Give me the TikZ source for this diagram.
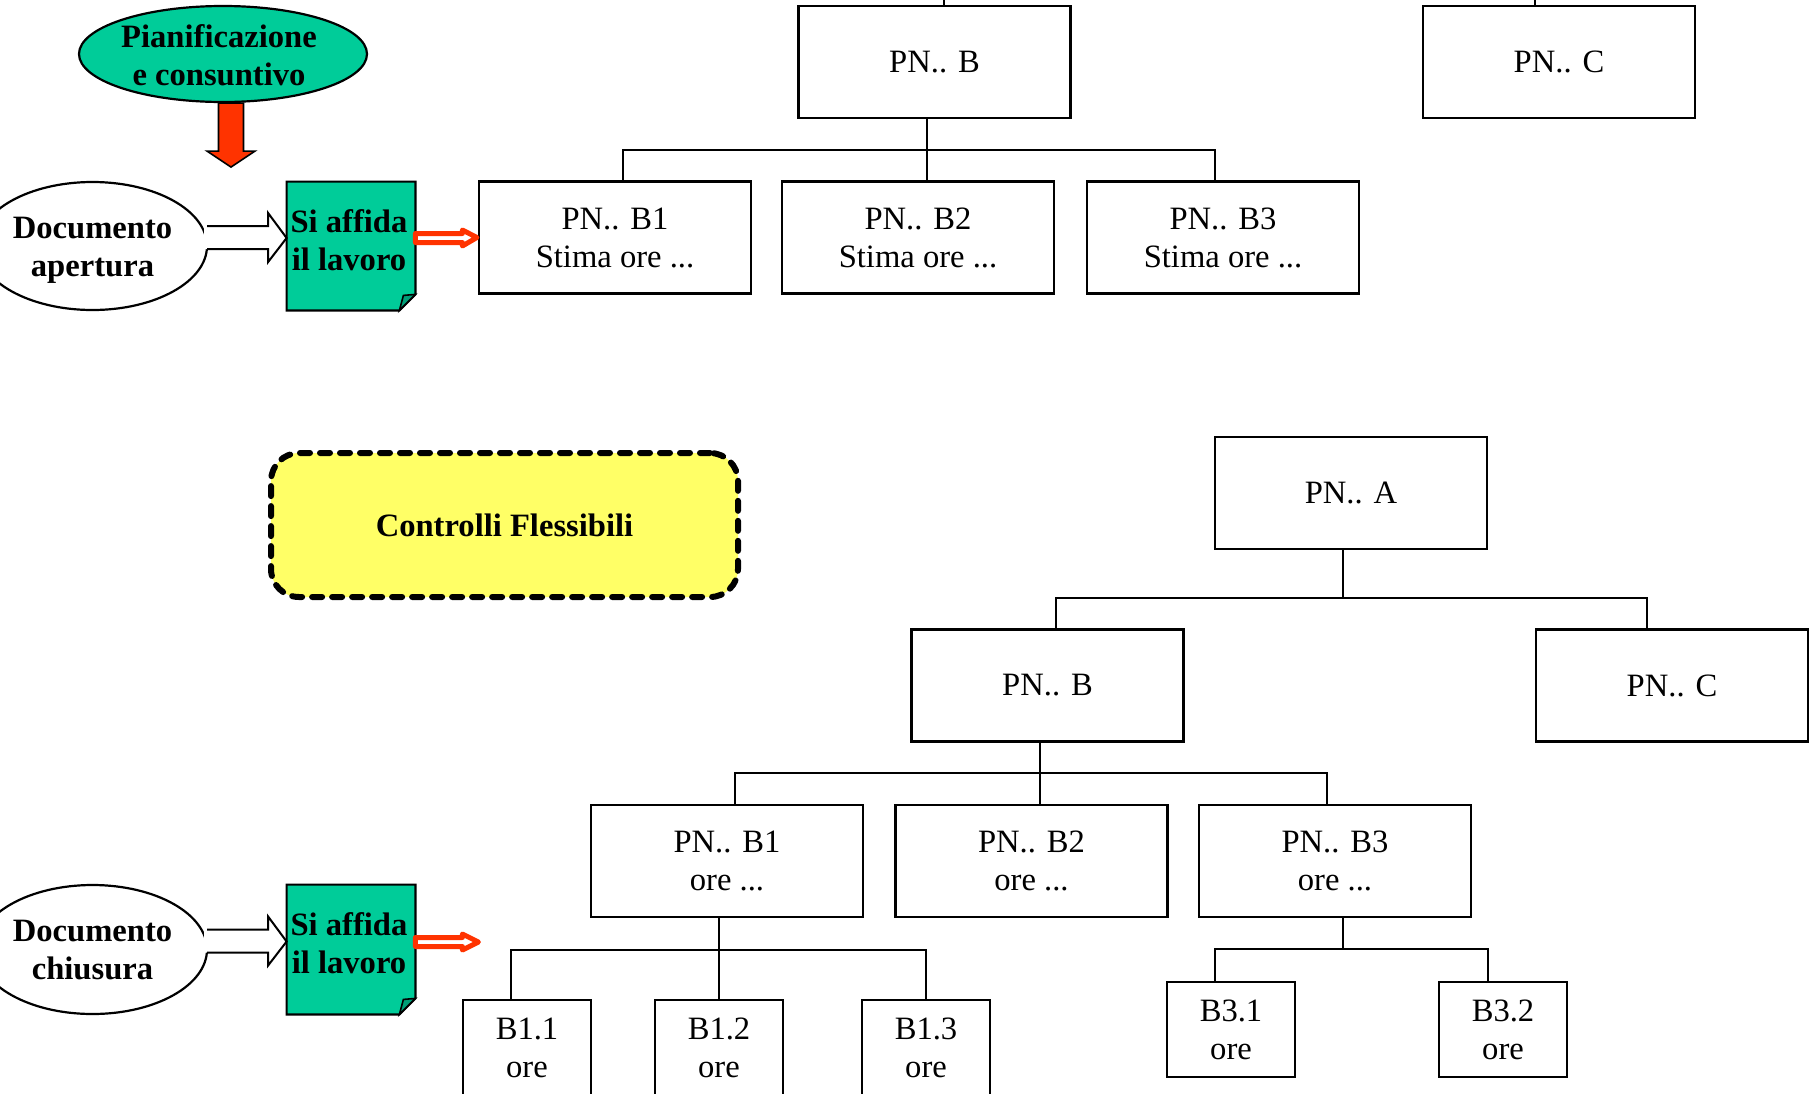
\documentclass[tikz,border=0pt]{standalone}
\usepackage{fontspec}
\setmainfont{Liberation Serif}
\usetikzlibrary{shapes.geometric,calc}
\definecolor{tealA}{HTML}{00CC99}
\definecolor{tealD}{HTML}{009E77}
\definecolor{redA}{HTML}{FF3300}
\definecolor{yelA}{HTML}{FFFF66}
\newcommand\myfs{\fontsize{16.3}{19}\selectfont}
\begin{document}
\begin{tikzpicture}[x=0.5pt,y=-0.5pt,
  box/.style={draw, line width=1.1pt, minimum width=136pt, minimum height=56pt, inner sep=0pt, align=center, font=\myfs},
  sbox/.style={box, minimum width=64pt, minimum height=47.5pt},
  conn/.style={line width=1pt},
  ell/.style={ellipse, draw, line width=1.1pt, inner sep=0pt},
  btxt/.style={align=center, font=\myfs\bfseries, inner sep=0pt},
  notebox/.style={rectangle, minimum width=64pt, minimum height=64pt, inner sep=0pt},
  notefill/.style={fill=tealA, draw, line width=1.1pt, line join=miter},
  whitearrow/.style={line width=1pt, line join=miter},
  redarrow/.style={draw=redA, fill=white, line width=2.5pt, line join=round},
  ctrlbox/.style={draw, fill=yelA, line width=3pt, dash pattern=on 5pt off 5pt, line cap=round, rounded corners=14pt, minimum width=233.5pt, minimum height=72pt, font=\myfs\bfseries}
]
\useasboundingbox (0,0) rectangle (1809,1093);
\clip (0,0) rectangle (1809,1093);

% ---------------- top part ----------------
\node[ell, fill=tealA, minimum width=144pt, minimum height=48pt] (plan) at (223,54) {};
\node[btxt] (planT) at (219,55) {Pianificazione\\e consuntivo};

% red down arrow
\draw[fill=redA, line width=0.8pt, line join=miter] ($(plan.south)+(-4.5,0)$) -- ++(25,0) -- ++(0,48) -- ++(11.5,0) -- ++(-24,16) -- ++(-24,-16) -- ++(11.5,0) -- cycle;

\node[ell, fill=white, minimum width=114.5pt, minimum height=64pt] (docA) at (92.5,246) {};
\node[btxt] (docAT) at (92.5,250) {Documento\\apertura};

\node[notebox] (note1) at (351,246) {};
\draw[notefill] (note1.north west) -- (note1.north east) -- ([yshift=8pt]note1.south east) -- ([xshift=-8pt]note1.south east) -- (note1.south west) -- cycle;
\draw[fill=tealD, line width=0.8pt] ([xshift=-8pt]note1.south east) -- ([xshift=-6pt,yshift=7.5pt]note1.south east) -- ([yshift=8pt]note1.south east) -- cycle;
\node[btxt] (note1T) at (349,240) {Si affida\\il lavoro};

% white block arrow
\fill[white] ($(docA.east)+(-4,-20)$) -- ++(64,0) -- ++(0,-13) -- ($(note1.west)+(0,-8)$) -- ($(docA.east)+(60,16)$) -- ++(0,-13) -- ($(docA.east)+(-4,3)$) -- cycle;
\draw[whitearrow] ($(docA.east)+(-1,-20)$) -- ++(61,0) -- ++(0,-13) -- ($(note1.west)+(0,-8)$) -- ($(docA.east)+(60,16)$) -- ++(0,-13) -- ($(docA.east)+(-1,3)$);

\node[box] (PNBt) at (934.5,62) {PN.. B};
\node[box] (PNCt) at (1559,62) {PN.. C};
\node[box] (B1t) at (615,237.5) {PN.. B1\\Stima ore ...};
\node[box] (B2t) at (918,237.5) {PN.. B2\\Stima ore ...};
\node[box] (B3t) at (1223,237.5) {PN.. B3\\Stima ore ...};

% red double arrow
\draw[redarrow] ($(note1.east)+(0,-12.5)$) -- ++(47,0) -- ++(0,-3.5) -- ($(B1t.west)+(-1,0)$) -- ($(note1.east)+(47,0)$) -- ++(0,-3.5) -- ($(note1.east)+(0,-3.5)$) -- cycle;

% top tree connectors
\coordinate (topB) at (944,-5);
\coordinate (topC) at (1535,-5);
\draw[conn] (PNBt.north -| topB) -- (topB);
\draw[conn] (PNCt.north -| topC) -- (topC);
\coordinate (busT) at (0,150);
\coordinate (tBo) at ([xshift=-3.75pt]PNBt.south);
\coordinate (t1) at ([xshift=4pt]B1t.north);
\coordinate (t2) at ([xshift=4.5pt]B2t.north);
\coordinate (t3) at ([xshift=-4pt]B3t.north);
\draw[conn] (tBo) -- (tBo |- busT) -| (t1);
\draw[conn] (tBo |- busT) -| (t2);
\draw[conn] (tBo |- busT) -| (t3);

% ---------------- bottom part ----------------
\node[ctrlbox] (ctrl) at (504.5,525) {Controlli Flessibili};

\node[box] (PNA) at (1351,493) {PN.. A};
\node[box] (PNBb) at (1047.5,685.5) {PN.. B};
\node[box] (PNCb) at (1672,685.5) {PN.. C};
\node[box] (B1b) at (727,861) {PN.. B1\\ore ...};
\node[box] (B2b) at (1031.5,861) {PN.. B2\\ore ...};
\node[box] (B3b) at (1335,861) {PN.. B3\\ore ...};
\node[sbox] (B11) at (527,1047.5) {B1.1\\ore};
\node[sbox] (B12) at (719,1047.5) {B1.2\\ore};
\node[sbox] (B13) at (926,1047.5) {B1.3\\ore};
\node[sbox] (B31) at (1231,1029.5) {B3.1\\ore};
\node[sbox] (B32) at (1503,1029.5) {B3.2\\ore};

\coordinate (busA) at (0,598);
\coordinate (aO) at ([xshift=-4pt]PNA.south);
\coordinate (aB) at ([xshift=4.25pt]PNBb.north);
\coordinate (aC) at ([xshift=-12.5pt]PNCb.north);
\draw[conn] (aO) -- (aO |- busA) -| (aB);
\draw[conn] (aO |- busA) -| (aC);

\coordinate (busB) at (0,773);
\coordinate (bO) at ([xshift=-4pt]PNBb.south);
\coordinate (b1) at ([xshift=4pt]B1b.north);
\coordinate (b2) at ([xshift=4pt]B2b.north);
\coordinate (b3) at ([xshift=-4pt]B3b.north);
\draw[conn] (bO) -- (bO |- busB) -| (b1);
\draw[conn] (bO |- busB) -| (b2);
\draw[conn] (bO |- busB) -| (b3);

\coordinate (busC) at (0,950);
\coordinate (cO) at ([xshift=-4pt]B1b.south);
\coordinate (c1) at ([xshift=-8pt]B11.north);
\coordinate (c2) at (B12.north);
\coordinate (c3) at (B13.north);
\draw[conn] (cO) -- (cO |- busC) -| (c1);
\draw[conn] (cO |- busC) -| (c2);
\draw[conn] (cO |- busC) -| (c3);

\coordinate (busD) at (0,949);
\coordinate (dO) at ([xshift=4pt]B3b.south);
\coordinate (d1) at ([xshift=-8pt]B31.north);
\coordinate (d2) at ([xshift=-7.5pt]B32.north);
\draw[conn] (dO) -- (dO |- busD) -| (d1);
\draw[conn] (dO |- busD) -| (d2);

% bottom-left chain
\node[ell, fill=white, minimum width=114.5pt, minimum height=64.5pt] (docC) at (92.5,949.5) {};
\node[btxt] (docCT) at (92.5,950.5) {Documento\\chiusura};

\node[notebox, minimum height=64.5pt] (note2) at (351,949.5) {};
\draw[notefill] (note2.north west) -- (note2.north east) -- ([yshift=8pt]note2.south east) -- ([xshift=-8pt]note2.south east) -- (note2.south west) -- cycle;
\draw[fill=tealD, line width=0.8pt] ([xshift=-8pt]note2.south east) -- ([xshift=-6pt,yshift=7.5pt]note2.south east) -- ([yshift=8pt]note2.south east) -- cycle;
\node[btxt] (note2T) at (349,943) {Si affida\\il lavoro};

\fill[white] ($(docC.east)+(-4,-20)$) -- ++(64,0) -- ++(0,-13) -- ($(note2.west)+(0,-8)$) -- ($(docC.east)+(60,16)$) -- ++(0,-13) -- ($(docC.east)+(-4,3)$) -- cycle;
\draw[whitearrow] ($(docC.east)+(-1,-20)$) -- ++(61,0) -- ++(0,-13) -- ($(note2.west)+(0,-8)$) -- ($(docC.east)+(60,16)$) -- ++(0,-13) -- ($(docC.east)+(-1,3)$);

\coordinate (redEnd) at ($(note2.east)+(63,-7.5)$);
\draw[redarrow] ($(note2.east)+(0,-12)$) -- ++(47,0) -- ++(0,-3.5) -- (redEnd) -- ($(note2.east)+(47,0.5)$) -- ++(0,-3.5) -- ($(note2.east)+(0,-3)$) -- cycle;

\end{tikzpicture}
\end{document}
